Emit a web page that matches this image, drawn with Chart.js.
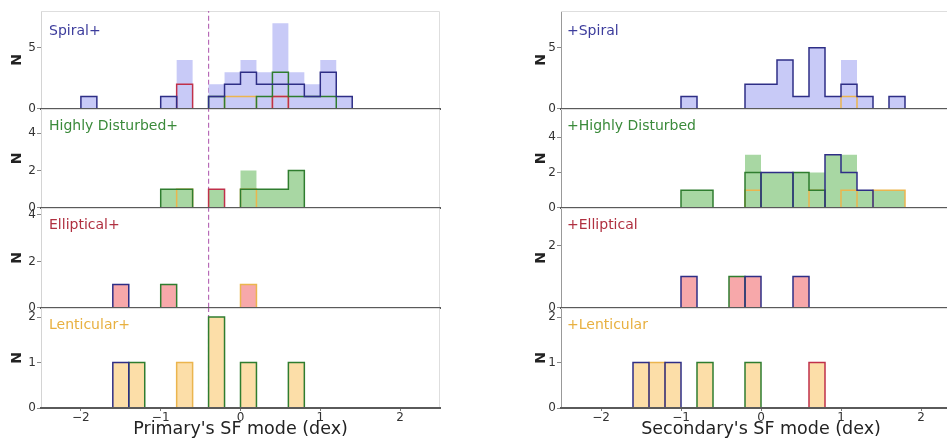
<!DOCTYPE html>
<html>
<head>
<meta charset="utf-8">
<title>SF mode histograms</title>
<script src="https://cdn.jsdelivr.net/npm/chart.js@4.4.1/dist/chart.umd.min.js"></script>
<style>
  html, body { margin: 0; padding: 0; background: #fff; overflow: hidden; }
  body { position: relative; width: 947px; height: 440px; }
  canvas { position: absolute; }
</style>
</head>
<body>
<script>
// Histograms of star-formation mode, split by the morphology of each galaxy in the pair

// Bin edges in dex (0.2 dex bins), shared by every panel
const binEdges = [-2.0, -1.8, -1.6, -1.4, -1.2, -1.0, -0.8, -0.6, -0.4, -0.2, 0.0,
                  0.2, 0.4, 0.6, 0.8, 1.0, 1.2, 1.4, 1.6, 1.8];
const xTicks = [-2, -1, 0, 1, 2];
const primaryCut = -0.4;

// Left column: primary's morphology (filled), companion's morphology (outlines)
//                           -2.0        -1.0          0.0          1.0
const priSpiralAll =         [1,0,0,0,0, 1,4,0,2,3, 4,3,7,3,2, 4,1,0,0];
const priSpiralSpiral =      [1,0,0,0,0, 1,0,0,1,2, 3,2,2,2,1, 3,1,0,0];
const priSpiralDisturbed =   [0,0,0,0,0, 0,0,0,1,0, 0,1,3,1,1, 1,0,0,0];
const priSpiralElliptical =  [0,0,0,0,0, 0,2,0,0,0, 0,0,1,0,0, 0,0,0,0];
const priSpiralLenticular =  [0,0,0,0,0, 0,0,0,0,1, 1,0,1,0,0, 0,0,0,0];

const priDisturbedAll =        [0,0,0,0,0, 1,1,0,1,0, 2,1,1,2,0, 0,0,0,0];
const priDisturbedDisturbed =  [0,0,0,0,0, 1,1,0,0,0, 1,1,1,2,0, 0,0,0,0];
const priDisturbedElliptical = [0,0,0,0,0, 0,0,0,1,0, 0,0,0,0,0, 0,0,0,0];
const priDisturbedLenticular = [0,0,0,0,0, 0,1,0,0,0, 1,0,0,0,0, 0,0,0,0];

const priEllipticalAll =        [0,0,1,0,0, 1,0,0,0,0, 1,0,0,0,0, 0,0,0,0];
const priEllipticalSpiral =     [0,0,1,0,0, 0,0,0,0,0, 0,0,0,0,0, 0,0,0,0];
const priEllipticalDisturbed =  [0,0,0,0,0, 1,0,0,0,0, 0,0,0,0,0, 0,0,0,0];
const priEllipticalLenticular = [0,0,0,0,0, 0,0,0,0,0, 1,0,0,0,0, 0,0,0,0];

const priLenticularAll =        [0,0,1,1,0, 0,1,0,2,0, 1,0,0,1,0, 0,0,0,0];
const priLenticularSpiral =     [0,0,1,0,0, 0,0,0,0,0, 0,0,0,0,0, 0,0,0,0];
const priLenticularDisturbed =  [0,0,0,1,0, 0,0,0,2,0, 1,0,0,1,0, 0,0,0,0];
const priLenticularLenticular = [0,0,0,0,0, 0,1,0,0,0, 0,0,0,0,0, 0,0,0,0];

// Right column: secondary's morphology (filled), primary's morphology (outlines)
const secSpiralAll =        [0,0,0,0,0, 1,0,0,0,2, 2,4,1,5,1, 4,1,0,1];
const secSpiralSpiral =     [0,0,0,0,0, 1,0,0,0,2, 2,4,1,5,1, 2,1,0,1];
const secSpiralLenticular = [0,0,0,0,0, 0,0,0,0,0, 0,0,0,0,0, 1,0,0,0];

const secDisturbedAll =        [0,0,0,0,0, 1,1,0,0,3, 2,2,2,2,3, 3,1,1,1];
const secDisturbedSpiral =     [0,0,0,0,0, 0,0,0,0,0, 2,2,0,0,3, 2,1,0,0];
const secDisturbedDisturbed =  [0,0,0,0,0, 1,1,0,0,2, 0,0,2,1,0, 0,0,0,0];
const secDisturbedLenticular = [0,0,0,0,0, 0,0,0,0,1, 0,0,0,1,0, 1,0,1,1];

const secEllipticalAll =       [0,0,0,0,0, 1,0,0,1,1, 0,0,1,0,0, 0,0,0,0];
const secEllipticalSpiral =    [0,0,0,0,0, 1,0,0,0,1, 0,0,1,0,0, 0,0,0,0];
const secEllipticalDisturbed = [0,0,0,0,0, 0,0,0,1,0, 0,0,0,0,0, 0,0,0,0];

const secLenticularAll =        [0,0,1,1,1, 0,1,0,0,1, 0,0,0,1,0, 0,0,0,0];
const secLenticularSpiral =     [0,0,1,0,1, 0,0,0,0,0, 0,0,0,0,0, 0,0,0,0];
const secLenticularDisturbed =  [0,0,0,0,0, 0,1,0,0,1, 0,0,0,0,0, 0,0,0,0];
const secLenticularElliptical = [0,0,0,0,0, 0,0,0,0,0, 0,0,0,1,0, 0,0,0,0];
const secLenticularLenticular = [0,0,0,1,0, 0,0,0,0,0, 0,0,0,0,0, 0,0,0,0];

// y ranges and tick values per row
const yMaxLeft = [8, 5.3, 4.3, 2.2];
const yMaxRight = [8, 5.6, 3.2, 2.2];
const yTicksLeft = [[0, 5], [0, 2, 4], [0, 2, 4], [0, 1, 2]];
const yTicksRight = [[0, 5], [0, 2, 4], [0, 2], [0, 1, 2]];

const typeNames = ['Spiral', 'Highly Disturbed', 'Elliptical', 'Lenticular'];
const fillColors = ['#c8caf7', '#a8d7a3', '#f7a8aa', '#fcdea8'];
const lineColors = ['#2e2e86', '#2f7d2f', '#c0304a', '#ebb54e'];
const labelColors = ['#3c3c9c', '#3a8a3a', '#b03040', '#e8b040'];

// rows: [filled, vs spiral, vs disturbed, vs elliptical, vs lenticular]
const leftRows = [
  [priSpiralAll, priSpiralSpiral, priSpiralDisturbed, priSpiralElliptical, priSpiralLenticular],
  [priDisturbedAll, null, priDisturbedDisturbed, priDisturbedElliptical, priDisturbedLenticular],
  [priEllipticalAll, priEllipticalSpiral, priEllipticalDisturbed, null, priEllipticalLenticular],
  [priLenticularAll, priLenticularSpiral, priLenticularDisturbed, null, priLenticularLenticular]
];
const rightRows = [
  [secSpiralAll, secSpiralSpiral, null, null, secSpiralLenticular],
  [secDisturbedAll, secDisturbedSpiral, secDisturbedDisturbed, null, secDisturbedLenticular],
  [secEllipticalAll, secEllipticalSpiral, secEllipticalDisturbed, null, null],
  [secLenticularAll, secLenticularSpiral, secLenticularDisturbed, secLenticularElliptical, secLenticularLenticular]
];

// Page layout (pixels)
const rowTop = [11, 109, 208, 308];
const rowBottom = [109, 208, 308, 408];
const colLeft = [0, 480];
const colWidth = [460, 500];
const colPadLeft = [0, 44];
const colAxisWidth = [41, 37];
const colPadRight = [20, 19];

Chart.defaults.font.family = "'DejaVu Sans', sans-serif";
Chart.defaults.color = '#333';

// Turn bin counts into points for a stepped line (step-before)
function stepPoints(counts) {
  const pts = [{ x: binEdges[0], y: 0 }];
  counts.forEach((c, i) => pts.push({ x: binEdges[i], y: c }));
  pts.push({ x: binEdges[binEdges.length - 1], y: 0 });
  return pts;
}

function minusLabel(v) {
  return (v < 0 ? '\u2212' : '') + Math.abs(v);
}

// Light frame on top/right edges of each panel
const panelFrame = {
  id: 'panelFrame',
  beforeDatasetsDraw(chart) {
    const { ctx, chartArea: a } = chart;
    ctx.save();
    ctx.strokeStyle = '#dedede';
    ctx.lineWidth = 1;
    ctx.beginPath();
    ctx.moveTo(a.left, a.top + 0.5);
    ctx.lineTo(a.right - 0.5, a.top + 0.5);
    ctx.lineTo(a.right - 0.5, a.bottom);
    ctx.stroke();
    ctx.restore();
  }
};

// Morphology tag in the upper-left corner of each panel
const panelLabel = {
  id: 'panelLabel',
  afterDatasetsDraw(chart, args, opts) {
    const { ctx, chartArea: a } = chart;
    ctx.save();
    ctx.font = "14px 'DejaVu Sans', sans-serif";
    ctx.fillStyle = opts.color;
    ctx.textBaseline = 'middle';
    ctx.fillText(opts.text, a.left + opts.dx, a.top + opts.dy);
    ctx.restore();
  }
};

function makePanel(col, row) {
  const isBottom = row === 3;
  const series = (col === 0 ? leftRows : rightRows)[row];
  const yMax = (col === 0 ? yMaxLeft : yMaxRight)[row];
  const yTicks = (col === 0 ? yTicksLeft : yTicksRight)[row];

  const canvas = document.createElement('canvas');
  const top = rowTop[row] - 10;
  const padBottom = isBottom ? 0 : 8;
  const xHeight = isBottom ? 32 : 0;
  canvas.width = colWidth[col];
  canvas.height = rowBottom[row] - rowTop[row] + 10 + padBottom + xHeight;
  canvas.style.left = colLeft[col] + 'px';
  canvas.style.top = top + 'px';
  document.body.appendChild(canvas);

  const datasets = [];

  // outlines, one per companion morphology
  series.slice(1).forEach((counts, k) => {
    if (!counts) return;
    datasets.push({
      data: stepPoints(counts),
      stepped: 'before',
      borderColor: lineColors[k],
      borderWidth: 1.5,
      pointRadius: 0,
      fill: false,
      order: k
    });
  });

  // filled histogram of the whole row
  datasets.push({
    data: stepPoints(series[0]),
    stepped: 'before',
    borderWidth: 0,
    borderColor: 'rgba(0,0,0,0)',
    backgroundColor: fillColors[row],
    pointRadius: 0,
    fill: 'origin',
    order: 10
  });

  if (col === 0) {
    datasets.push({
      data: [{ x: primaryCut, y: 0 }, { x: primaryCut, y: yMax }],
      borderColor: 'rgba(170, 80, 170, 0.85)',
      borderWidth: 1.2,
      borderDash: [5, 3],
      pointRadius: 0,
      fill: false,
      order: 20
    });
  }

  const label = col === 0 ? typeNames[row] + '+' : '+' + typeNames[row];

  return new Chart(canvas, {
    type: 'line',
    data: { datasets },
    plugins: [panelFrame, panelLabel],
    options: {
      responsive: false,
      animation: false,
      events: [],
      layout: {
        padding: { top: 10, bottom: padBottom, left: colPadLeft[col], right: colPadRight[col] }
      },
      plugins: {
        legend: { display: false },
        tooltip: { enabled: false },
        panelLabel: {
          text: label,
          color: labelColors[row],
          dx: col === 0 ? 8 : 6,
          dy: row === 0 ? 20 : 17
        }
      },
      scales: {
        x: {
          type: 'linear',
          min: -2.5,
          max: 2.5,
          afterBuildTicks: s => { s.ticks = xTicks.map(v => ({ value: v })); },
          afterFit: s => { s.height = xHeight; },
          border: { display: true, color: '#5a5a5a', width: 2, z: 1 },
          grid: {
            display: isBottom,
            drawOnChartArea: false,
            drawTicks: isBottom,
            tickLength: 3,
            color: '#777'
          },
          ticks: {
            display: isBottom,
            font: { size: 12 },
            color: '#333',
            padding: 0,
            maxRotation: 0,
            autoSkip: false,
            callback: v => minusLabel(v)
          },
          title: {
            display: isBottom,
            text: col === 0 ? "Primary's SF mode (dex)" : "Secondary's SF mode (dex)",
            font: { size: 17.5 },
            color: '#222',
            padding: { top: 0, bottom: 0 }
          }
        },
        y: {
          min: 0,
          max: yMax,
          afterBuildTicks: s => { s.ticks = yTicks.map(v => ({ value: v })); },
          afterFit: s => { s.width = colAxisWidth[col]; },
          border: { display: true, color: col === 0 ? '#d4d4d4' : '#999', width: 1 },
          grid: {
            display: true,
            drawOnChartArea: false,
            drawTicks: true,
            tickLength: 4,
            color: '#888'
          },
          ticks: {
            font: { size: 12 },
            color: '#333',
            padding: 1,
            callback: v => String(v)
          },
          title: {
            display: true,
            text: 'N',
            font: { size: 14, weight: 'bold' },
            color: '#222',
            padding: { top: 9, bottom: 0 }
          }
        }
      }
    }
  });
}

for (let col = 0; col < 2; col++) {
  for (let row = 0; row < 4; row++) {
    makePanel(col, row);
  }
}
</script>
</body>
</html>
